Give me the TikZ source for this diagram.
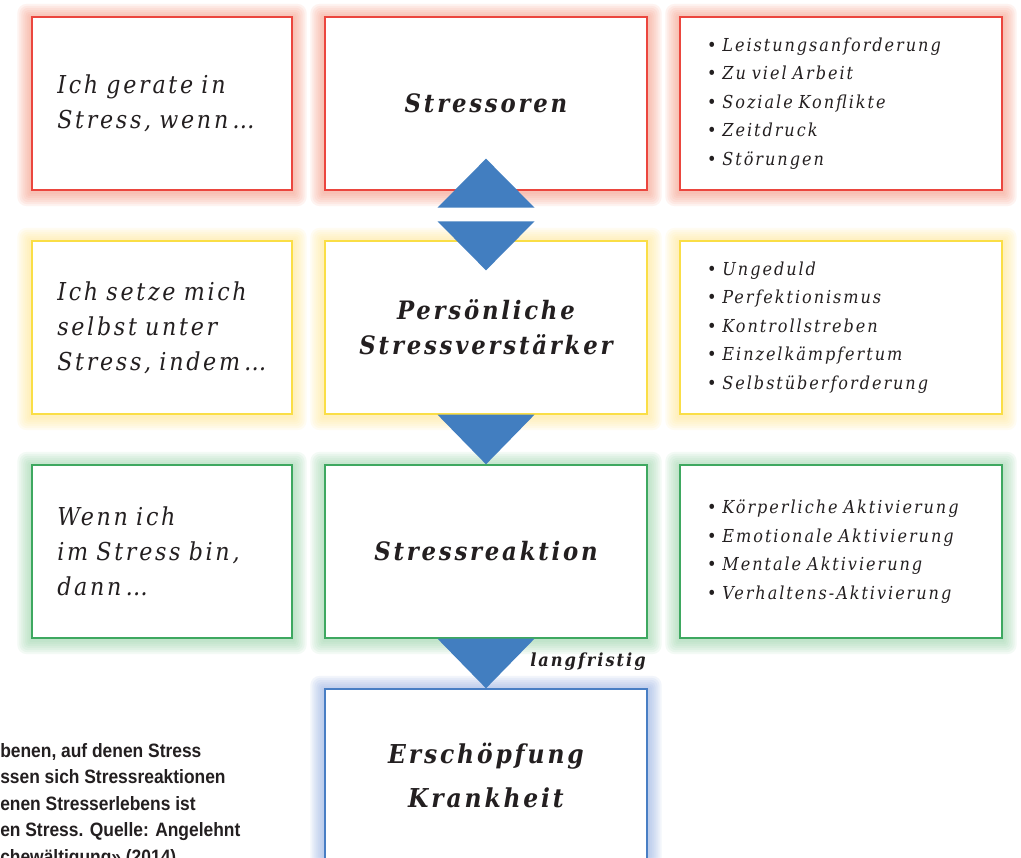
\documentclass[tikz,border=0pt]{standalone}
\usepackage{fontspec}
\usetikzlibrary{calc}
\usetikzlibrary{backgrounds}
\newfontfamily\slab[LetterSpace=11]{DejaVu Serif Condensed}
\newfontfamily\capfont[FakeStretch=0.9]{Liberation Sans}
\definecolor{txt}{RGB}{35,31,32}
\definecolor{redline}{RGB}{235,70,62}
\definecolor{redglow}{RGB}{248,150,125}
\definecolor{yelline}{RGB}{250,222,70}
\definecolor{yelglow}{RGB}{255,232,140}
\definecolor{grnline}{RGB}{62,168,96}
\definecolor{grnglow}{RGB}{150,212,165}
\definecolor{bluline}{RGB}{72,126,196}
\definecolor{bluglow}{RGB}{140,170,225}
\definecolor{pfeil}{RGB}{66,126,192}

\begin{document}
\begin{tikzpicture} [x=0.75pt, y=-0.75pt]
\tikzset{
 box/.style={draw=#1, line width=1pt, fill=white, minimum height=129.75pt, text=txt},
 frage/.style={box=#1, minimum width=195pt, text width=157pt, inner xsep=19pt, align=left,
   font=\slab\itshape\fontsize{18.5}{26.25}\selectfont},
 kern/.style={box=#1, minimum width=241.5pt, text width=220pt, align=center,
   font=\slab\bfseries\itshape\fontsize{19}{26.25}\selectfont},
 liste/.style={box=#1, minimum width=241.5pt, text width=201pt, inner xsep=20pt, align=left,
   font=\slab\itshape\fontsize{13.4}{21.4}\selectfont},
 arrowfill/.style={fill=pfeil}
}
\useasboundingbox (0,0) rectangle (1021,857);
\clip (0,0) rectangle (1021,857);

% row 1
\node[frage=redline] (l1) at (162,103.5) {Ich~gerate~in\\ Stress,~wenn\,…};
\node[kern=redline]  (m1) at (486,103.5) {Stressoren};
\node[liste=redline] (r1) at (841,103.5) {\textbullet\ Leistungsanforderung\\ \textbullet\ Zu viel Arbeit\\
  \textbullet\ Soziale Konflikte\\ \textbullet\ Zeitdruck\\ \textbullet\ Störungen};
% row 2
\node[frage=yelline] (l2) at (162,327.5) {Ich~setze~mich\\ selbst~unter\\ Stress,~indem\,…};
\node[kern=yelline]  (m2) at (486,327.5) {Persönliche\\ Stressverstärker};
\node[liste=yelline] (r2) at (841,327.5) {\textbullet\ Ungeduld\\ \textbullet\ Perfektionismus\\
  \textbullet\ Kontrollstreben\\ \textbullet\ Einzelkämpfertum\\ \textbullet\ Selbstüberforderung};
% row 3
\node[frage=grnline] (l3) at (162,551.5) {Wenn~ich\\ im~Stress~bin,\\ dann\,…};
\node[kern=grnline]  (m3) at (486,551.5) {Stressreaktion};
\node[liste=grnline] (r3) at (841,551.5) {\textbullet\ Körperliche~Aktivierung\\ \textbullet\ Emotionale~Aktivierung\\
  \textbullet\ Mentale~Aktivierung\\ \textbullet\ Verhaltens-Aktivierung};
% row 4
\node[kern=bluline, font=\slab\bfseries\itshape\fontsize{19.5}{33}\selectfont] (m4) at (486,775.5) {Erschöpfung\\ Krankheit};

% glow
\begin{scope}[on background layer]
\fill[white] (0,0) rectangle (1021,857);
\foreach \n/\c in {l1/redglow, m1/redglow, r1/redglow, l2/yelglow, m2/yelglow, r2/yelglow,
                   l3/grnglow, m3/grnglow, r3/grnglow, m4/bluglow} {
 \foreach \g in {2,4,...,14}
  \fill[\c, opacity=0.11, rounded corners=\g/2] ($(\n.south west)+(-\g,\g+1.5)$) rectangle ($(\n.north east)+(\g,-\g+1.5)$);
}
\end{scope}

% arrows
\fill[arrowfill] ($(m1.south)+(-48.5,17)$) -- ($(m1.south)+(48.5,17)$) -- ($(m1.south)+(0,-32)$) -- cycle;
\fill[arrowfill] ($(m2.north)+(-48.5,-19)$) -- ($(m2.north)+(48.5,-19)$) -- ($(m2.north)+(0,30)$) -- cycle;
\fill[arrowfill] ($(m2.south)+(-48.5,0)$) -- ($(m2.south)+(48.5,0)$) -- (m3.north) -- cycle;
\fill[arrowfill] ($(m3.south)+(-48.5,0)$) -- ($(m3.south)+(48.5,0)$) -- (m4.north) -- cycle;
\node[text=txt, font=\slab\bfseries\itshape\fontsize{13.5}{15}\selectfont] (lang) at (588,662) {langfristig};

% caption
\node[anchor=north west, inner sep=0, align=left, text=txt,
  font=\capfont\bfseries\fontsize{14.5}{19.9}\selectfont] (quelle) at (0,743)
  {benen, auf denen Stress\\ ssen sich Stressreaktionen\\ enen Stresserlebens ist\\
   en Stress. Quelle: Angelehnt\\ chewältigung» (2014)};
\end{tikzpicture}
\end{document}
